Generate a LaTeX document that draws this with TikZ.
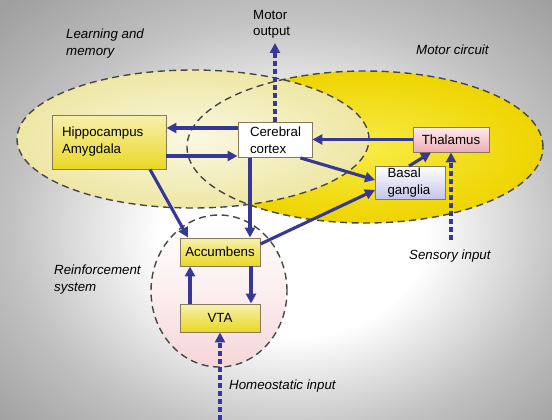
\documentclass[tikz,border=0pt]{standalone}
\usepackage{fontspec}
\setmainfont{Liberation Sans}
\usetikzlibrary{arrows.meta,shapes.geometric}
\definecolor{arrblue}{RGB}{55,55,150}
\definecolor{boxline}{RGB}{135,122,90}
\definecolor{ylwtop}{RGB}{246,240,175}
\definecolor{ylwbot}{RGB}{234,216,35}
\definecolor{pinktop}{RGB}{253,236,236}
\definecolor{pinkbot}{RGB}{238,170,180}
\definecolor{lavbot}{RGB}{196,196,234}
\definecolor{motorin}{RGB}{248,236,70}
\definecolor{motorout}{RGB}{238,212,0}
\definecolor{learnin}{RGB}{250,248,226}
\definecolor{learnout}{RGB}{238,231,165}
\definecolor{reinpink}{RGB}{246,214,216}
\pgfdeclareradialshading{bgshade}{\pgfpoint{2bp}{-4bp}}{color(0bp)=(white); color(12bp)=(white); color(25bp)=(black!24); color(36bp)=(black!38); color(50bp)=(black!42)}
\tikzset{
  lbl/.style={font=\fontsize{13.3}{16.5}\selectfont\itshape, inner sep=0pt, align=left},
  boxtxt/.style={font=\fontsize{13.3}{17}\selectfont, draw=boxline, line width=0.9pt, inner sep=0pt},
  ybox/.style={boxtxt, top color=ylwtop, bottom color=ylwbot},
  arr/.style={draw=arrblue, line width=3.1pt, -{Triangle[length=10pt,width=10pt]}},
  darr/.style={arr, dash pattern=on 5pt off 3pt},
  zone/.style={draw=black!72, line width=1.4pt, dash pattern=on 7pt off 4.5pt}
}
\begin{document}
\begin{tikzpicture}[x=1pt,y=-1pt]
\useasboundingbox (0,0) rectangle (552,420);
\shade[shading=bgshade] (0,0) rectangle (552,420);
% zones fills
\shade[top color=white, bottom color=reinpink, middle color=white!60!reinpink] (219,291) ellipse [x radius=68pt, y radius=76pt];
\shade[inner color=motorin, outer color=motorout] (365,147) ellipse [x radius=178pt, y radius=76pt];
\shade[inner color=learnin, outer color=learnout] (193,139) ellipse [x radius=176pt, y radius=69pt];
% zone outlines
\draw[zone] (219,291) ellipse [x radius=68pt, y radius=76pt];
\draw[zone] (365,147) ellipse [x radius=178pt, y radius=76pt];
\draw[zone] (193,139) ellipse [x radius=176pt, y radius=69pt];
% nodes
\node[ybox, minimum width=114pt, minimum height=54pt, text width=94pt, align=left] (hip) at (109,142) {Hippocampus\\Amygdala};
\node[boxtxt, fill=white, minimum width=74pt, minimum height=35pt, text width=50pt, align=left] (ctx) at (275,140) {Cerebral\\cortex};
\node[boxtxt, top color=pinktop, bottom color=pinkbot, minimum width=76pt, minimum height=25pt] (thal) at (451,139.5) {Thalamus};
\node[boxtxt, top color=white, bottom color=lavbot, minimum width=70pt, minimum height=33pt, text width=46pt, align=left] (bg) at (410.5,183) {Basal\\ganglia};
\node[ybox, minimum width=80pt, minimum height=28pt] (acc) at (220,252) {Accumbens};
\node[ybox, minimum width=80pt, minimum height=28pt] (vta) at (220,318) {VTA};
% free ends
\coordinate (motorend) at (275,43);
\coordinate (sensstart) at (451,240);
\coordinate (homeostart) at (220,420);
% labels
\node[lbl, anchor=north west] (lm) at (66,29) {Learning and\\memory};
\node[lbl, anchor=north west, font=\fontsize{13.3}{16}\selectfont] (mo) at (253,10) {Motor\\output};
\node[lbl, anchor=base west] (mc) at (416,55) {Motor circuit};
\node[lbl, anchor=base west] (si) at (409,259) {Sensory input};
\node[lbl, anchor=north west] (rs) at (54,265) {Reinforcement\\system};
\node[lbl, anchor=base west] (hi) at (229,389) {Homeostatic input};
% connectors
\draw[arr] ([yshift=12pt]ctx.west) -- ([yshift=14pt]hip.east);
\draw[arr] ([yshift=-14pt]hip.east) -- ([yshift=-16pt]ctx.west);
\draw[arr] (thal.west) -- (ctx.east |- thal.west);
\draw[arr] ([xshift=-12pt]ctx.south east) -- ([yshift=3pt]bg.west);
\draw[arr] ([xshift=-1.5pt]bg.north) -- ([xshift=-20pt]thal.south);
\draw[arr] ([xshift=-25pt]ctx.south) -- ([xshift=30pt]acc.north);
\draw[arr] ([xshift=41pt]hip.south) -- ([xshift=-32pt]acc.north);
\draw[arr] ([yshift=8pt]acc.east) -- ([yshift=-7pt]bg.west);
\draw[arr] ([xshift=-30pt]vta.north) -- ([xshift=-30pt]acc.south);
\draw[arr] ([xshift=31pt]acc.south) -- ([xshift=31pt]vta.north);
\draw[darr] (ctx.north) -- (motorend);
\draw[darr] (sensstart) -- (thal.south);
\draw[darr] (homeostart) -- (vta.south);
\end{tikzpicture}
\end{document}
